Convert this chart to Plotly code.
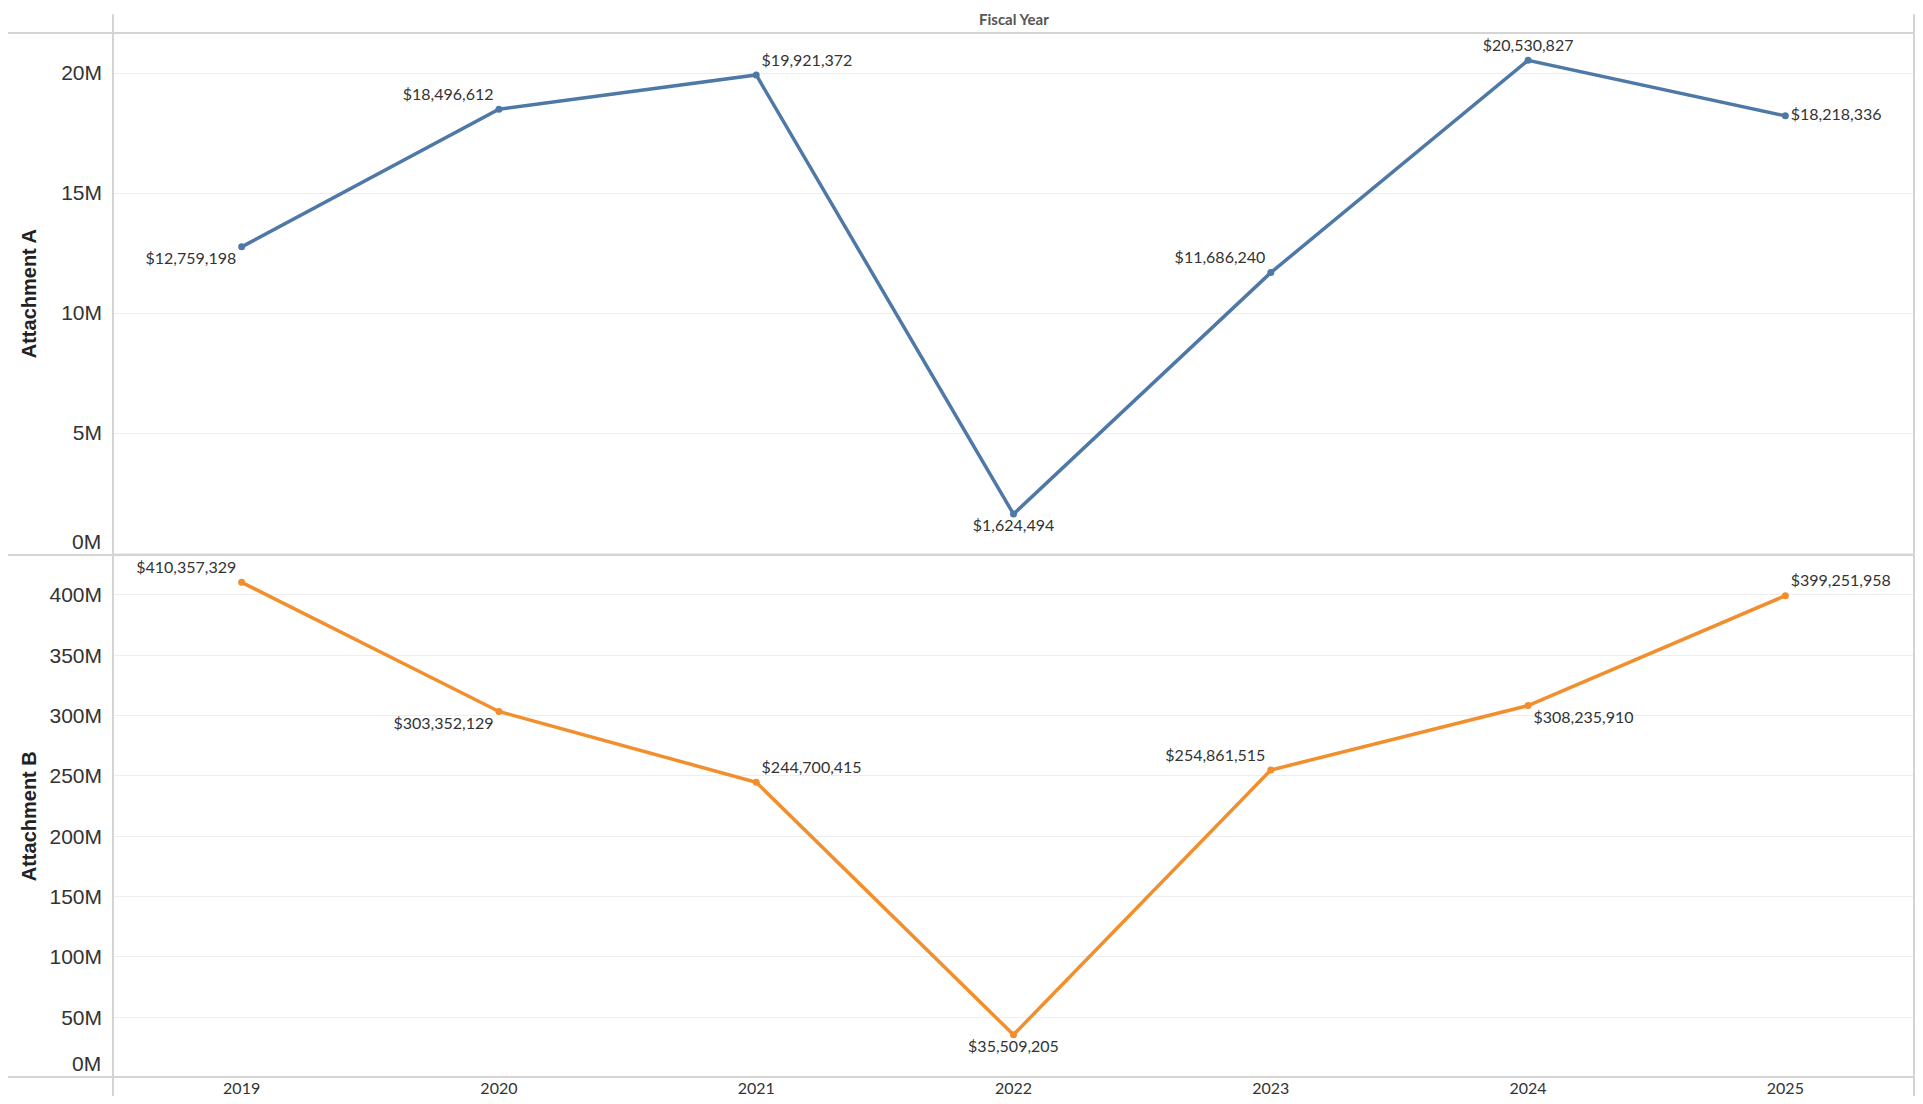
"""Attachment A / Attachment B totals by fiscal year, two stacked line panels."""
import plotly.graph_objects as go
from plotly.subplots import make_subplots

# Data
YEARS = ["2019", "2020", "2021", "2022", "2023", "2024", "2025"]
ATTACHMENT_A = [12759198, 18496612, 19921372, 1624494, 11686240, 20530827, 18218336]
ATTACHMENT_B = [410357329, 303352129, 244700415, 35509205, 254861515, 308235910, 399251958]

A_TICKS = [0, 5e6, 10e6, 15e6, 20e6]
A_TICK_LABELS = ["", "5M", "10M", "15M", "20M"]
B_TICKS = [0, 50e6, 100e6, 150e6, 200e6, 250e6, 300e6, 350e6, 400e6]
B_TICK_LABELS = ["", "50M", "100M", "150M", "200M", "250M", "300M", "350M", "400M"]

BLUE = "#4e79a7"
ORANGE = "#f28e2b"
LINE_GRAY = "#d4d4d4"
GRID_GRAY = "#eeeeee"
TEXT = "#333333"
LABEL_FONT = "Lato, 'Open Sans', sans-serif"
AXIS_FONT = "'Liberation Sans', Arial, sans-serif"

# where each value label sits relative to its point
A_TEXTPOS = ["bottom left", "top left", "top right", "bottom center",
             "top left", "top center", "middle right"]
B_TEXTPOS = ["top left", "bottom left", "top right", "bottom center",
             "top left", "bottom right", "top right"]


def money(v):
    return f"${v:,.0f}"


fig = make_subplots(rows=2, cols=1, shared_xaxes=True, vertical_spacing=0)

fig.add_trace(
    go.Scatter(
        x=YEARS,
        y=ATTACHMENT_A,
        mode="lines+markers+text",
        line=dict(color=BLUE, width=3.5),
        marker=dict(color=BLUE, size=7),
        text=[money(v) for v in ATTACHMENT_A],
        textposition=A_TEXTPOS,
        textfont=dict(family=LABEL_FONT, size=16, color=TEXT),
        cliponaxis=False,
        showlegend=False,
    ),
    row=1, col=1,
)

fig.add_trace(
    go.Scatter(
        x=YEARS,
        y=ATTACHMENT_B,
        mode="lines+markers+text",
        line=dict(color=ORANGE, width=3.5),
        marker=dict(color=ORANGE, size=7),
        text=[money(v) for v in ATTACHMENT_B],
        textposition=B_TEXTPOS,
        textfont=dict(family=LABEL_FONT, size=16, color=TEXT),
        cliponaxis=False,
        showlegend=False,
    ),
    row=2, col=1,
)

yaxis_common = dict(
    showgrid=True,
    gridcolor=GRID_GRAY,
    gridwidth=1,
    zeroline=False,
    showline=False,
    ticks="",
    automargin=False,
    ticklabelstandoff=10,
    tickfont=dict(family=AXIS_FONT, size=21, color=TEXT),
)
fig.update_yaxes(
    range=[-0.08e6, 21.67e6], tickvals=A_TICKS, ticktext=A_TICK_LABELS,
    row=1, col=1, **yaxis_common,
)
fig.update_yaxes(
    range=[0.5e6, 433e6], tickvals=B_TICKS, ticktext=B_TICK_LABELS,
    row=2, col=1, **yaxis_common,
)

fig.update_xaxes(
    range=[-0.5, 6.5],
    showgrid=False,
    zeroline=False,
    showline=False,
    ticks="",
    automargin=False,
)
fig.update_xaxes(
    tickfont=dict(family=LABEL_FONT, size=16, color=TEXT),
    ticklabelstandoff=0,
    row=2, col=1,
)

# frame lines in the Tableau style
left_edge = -105 / 1802
shapes = []
for y in [0, 0.5, 1]:
    shapes.append(dict(type="line", xref="paper", yref="paper",
                       x0=left_edge, x1=1, y0=y, y1=y,
                       line=dict(color=LINE_GRAY, width=2)))
for x in [0, 1]:
    shapes.append(dict(type="line", xref="paper", yref="paper",
                       x0=x, x1=x, y0=-0.02, y1=1.018,
                       line=dict(color=LINE_GRAY, width=2)))

annotations = [
    dict(text="<b>Fiscal Year</b>", xref="paper", yref="paper", x=0.5, y=1.013,
         xanchor="center", yanchor="middle", showarrow=False,
         font=dict(family=LABEL_FONT, size=15, color="#555555")),
    dict(text="<b>Attachment A</b>", xref="paper", yref="paper", x=-0.0465, y=0.75,
         xanchor="center", yanchor="middle", textangle=-90, showarrow=False,
         font=dict(family=AXIS_FONT, size=20, color="#222222")),
    dict(text="<b>Attachment B</b>", xref="paper", yref="paper", x=-0.0465, y=0.25,
         xanchor="center", yanchor="middle", textangle=-90, showarrow=False,
         font=dict(family=AXIS_FONT, size=20, color="#222222")),
    # zero labels sit just above the panel floor
    dict(text="0M", xref="paper", yref="y domain", x=0, y=0, xanchor="right", yanchor="bottom",
         xshift=-10, yshift=0, showarrow=False,
         font=dict(family=AXIS_FONT, size=21, color=TEXT)),
    dict(text="0M", xref="paper", yref="y2 domain", x=0, y=0, xanchor="right", yanchor="bottom",
         xshift=-10, yshift=0, showarrow=False,
         font=dict(family=AXIS_FONT, size=21, color=TEXT)),
]

fig.update_layout(
    width=1907,
    height=1088,
    margin=dict(l=105, r=1, t=25, b=19),
    plot_bgcolor="white",
    paper_bgcolor="white",
    shapes=shapes,
    annotations=annotations,
)

fig.write_html("out.html")
